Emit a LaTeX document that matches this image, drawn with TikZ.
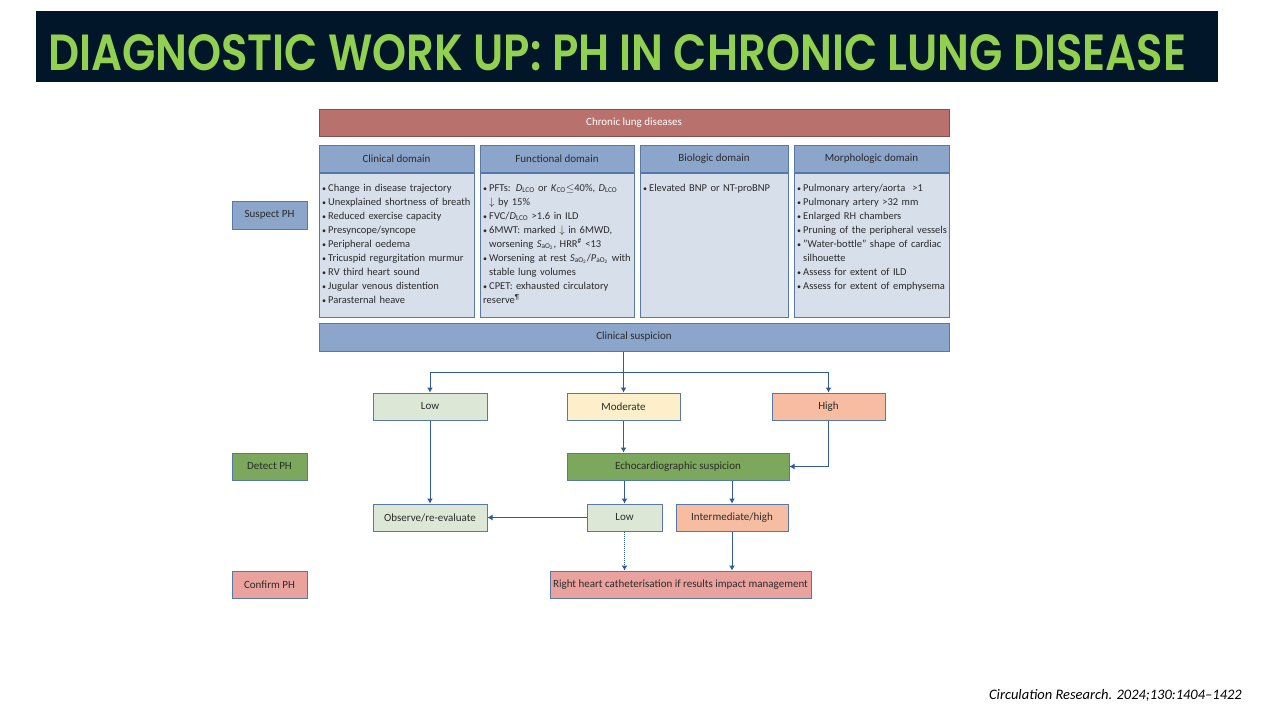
\documentclass[tikz,border=0pt]{standalone}
\usepackage{fontspec}
\setmainfont{Carlito}
\newfontfamily\titlefont{Poppins SemiBold}
\usetikzlibrary{arrows.meta,calc}

\definecolor{navy}{HTML}{021629}
\definecolor{titlegreen}{HTML}{92D050}
\definecolor{cldred}{HTML}{B8716C}
\definecolor{hdrblue}{HTML}{8CA5CB}
\definecolor{bodyblue}{HTML}{D7DFEB}
\definecolor{edgeblue}{HTML}{5878A8}
\definecolor{lowgreen}{HTML}{DDE7D5}
\definecolor{modyellow}{HTML}{FCEFC9}
\definecolor{highsalmon}{HTML}{F7BDA3}
\definecolor{echogreen}{HTML}{7BA85C}
\definecolor{rhcpink}{HTML}{E9A29D}
\definecolor{arrblue}{HTML}{2F5B98}
\definecolor{txtgrey}{HTML}{2B2B2B}

% bullet item with hanging indent
\newcommand{\itm}[1]{\par\hangindent=6pt\hangafter=1\noindent\hbox to 6pt{\fontsize{8}{8}\selectfont •\hfil}#1}
\newcommand{\sub}[1]{\textsubscript{#1}}

\begin{document}
\begin{tikzpicture}[x=1pt,y=-1pt,
  box/.style={draw=edgeblue,line width=1pt,inner sep=0pt,text=txtgrey,
    font=\fontsize{11}{13}\selectfont},
  hdrbox/.style={box,fill=hdrblue,minimum height=27pt},
  bodybox/.style={box,fill=bodyblue,minimum height=144pt,anchor=north},
  bodytxt/.style={anchor=north west,inner sep=0pt,text width=152pt,align=left,
    text=txtgrey,font=\fontsize{10.5}{14}\selectfont},
  lvlbox/.style={box,minimum height=27pt},
  arr/.style={->,draw=arrblue,line width=1pt,>={Latex[length=5pt,width=6pt]}}]

\useasboundingbox (0,0) rectangle (1280,720);

% title
\fill[navy] (36,11) rectangle (1218,82);
\node[anchor=base west,inner sep=0pt,text=titlegreen] (title) at (48,70)
  {\resizebox{1138pt}{36pt}{\titlefont\fontsize{44}{48}\selectfont DIAGNOSTIC WORK UP: PH IN CHRONIC LUNG DISEASE}};

% top bar
\node[box,draw=cldred!70!black,fill=cldred,text=white,minimum width=630pt,minimum height=27pt]
  (cld) at (634,122.5) {Chronic lung diseases};

% domains
\node[hdrbox,minimum width=155pt] (clin) at (396.5,158.5) {Clinical domain};
\node[hdrbox,minimum width=154pt] (func) at (557,158.5) {Functional domain};
\node[hdrbox,minimum width=148pt] (bio) at (714,158.5) {Biologic domain};
\node[hdrbox,minimum width=155pt] (morph) at (871.5,158.5) {Morphologic domain};

\node[bodybox,minimum width=155pt] (clinb) at (clin.south) {};
\node[bodybox,minimum width=154pt] (funcb) at (func.south) {};
\node[bodybox,minimum width=148pt] (biob) at (bio.south) {};
\node[bodybox,minimum width=155pt] (morphb) at (morph.south) {};

\node[bodytxt] (clint) at (322,177) {%
  \itm{Change in disease trajectory}
  \itm{Unexplained shortness of breath}
  \itm{Reduced exercise capacity}
  \itm{Presyncope/syncope}
  \itm{Peripheral oedema}
  \itm{Tricuspid regurgitation murmur}
  \itm{RV third heart sound}
  \itm{Jugular venous distention}
  \itm{Parasternal heave}};
\node[bodytxt] (funct) at (483,177) {%
  \itm{PFTs: \textit{D}\sub{LCO} or \textit{K}\sub{CO}$\leq$40\%, \textit{D}\sub{LCO} $\downarrow$~by 15\%}
  \itm{FVC/\textit{D}\sub{LCO} >1.6 in ILD}
  \itm{6MWT: marked $\downarrow$ in 6MWD, worsening \textit{S}\sub{aO\sub{2}}, HRR\textsuperscript{\#} <13}
  \itm{Worsening at rest \textit{S}\sub{aO\sub{2}}/\textit{P}\sub{aO\sub{2}} with stable lung volumes}
  \itm{CPET: exhausted circulatory reserve\textsuperscript{¶}}};
\node[bodytxt] (biot) at (643,177) {%
  \itm{Elevated BNP or NT-proBNP}};
\node[bodytxt] (morpht) at (797,177) {%
  \itm{Pulmonary artery/aorta~ >1}
  \itm{Pulmonary artery >32 mm}
  \itm{Enlarged RH chambers}
  \itm{Pruning of the peripheral vessels}
  \itm{"Water-bottle" shape of cardiac silhouette}
  \itm{Assess for extent of ILD}
  \itm{Assess for extent of emphysema}};

% stage labels
\node[lvlbox,fill=hdrblue,minimum width=75pt,minimum height=28pt] (suspect) at (269.5,215) {Suspect PH};
\node[lvlbox,fill=echogreen,minimum width=75pt] (detect) at (269.5,466.5) {Detect PH};
\node[lvlbox,fill=rhcpink,minimum width=75pt] (confirm) at (269.5,584.5) {Confirm PH};

% flow
\node[lvlbox,fill=hdrblue,minimum width=630pt,minimum height=28pt] (clinsus) at (634,337) {Clinical suspicion};
\node[lvlbox,fill=lowgreen,minimum width=114pt] (low) at (430,406.5) {Low};
\node[lvlbox,fill=modyellow,minimum width=113pt] (mod) at (623.5,406.5) {Moderate};
\node[lvlbox,fill=highsalmon,minimum width=113pt] (high) at (828.5,406.5) {High};
\node[lvlbox,fill=echogreen,minimum width=222pt] (echo) at (678,466.5) {Echocardiographic suspicion};
\node[lvlbox,fill=lowgreen,minimum width=114pt] (obs) at (430,517.5) {Observe/re-evaluate};
\node[lvlbox,fill=lowgreen,minimum width=75pt] (low2) at (624.5,517.5) {Low};
\node[lvlbox,fill=highsalmon,minimum width=112pt] (inter) at (732,517.5) {Intermediate/high};
\node[lvlbox,fill=rhcpink,minimum width=261pt] (rhc) at (680.5,584.5) {Right heart catheterisation if results impact management};

\coordinate (split) at (623.5,372);
\draw[arr] (clinsus.south -| mod) -- (mod.north);
\draw[arr] (split) -| (low.north);
\draw[arr] (split) -| (high.north);
\draw[arr] (mod.south) -- (echo.north -| mod);
\draw[arr] (high.south) |- (echo.east);
\draw[arr] (low.south) -- (obs.north);
\draw[arr] (echo.south -| low2) -- (low2.north);
\draw[arr] (echo.south -| inter) -- (inter.north);
\draw[arr] (low2.west) -- (obs.east);
\draw[arr,densely dotted] (low2.south) -- (rhc.north -| low2);
\draw[arr] (inter.south) -- (rhc.north -| inter);

% source
\node[anchor=east,inner sep=0pt,text=black] (src) at (1242,695)
  {\fontsize{14.5}{17}\selectfont\itshape Circulation Research. 2024;130:1404–1422};

\end{tikzpicture}
\end{document}
